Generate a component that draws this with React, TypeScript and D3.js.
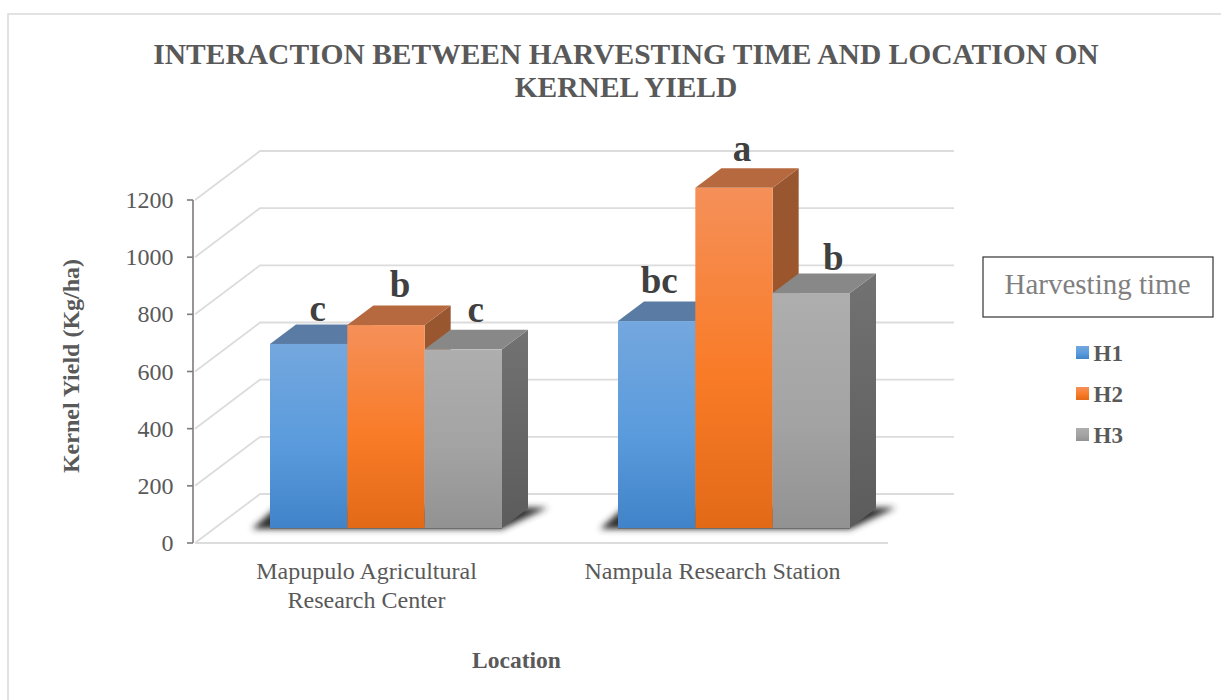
import React from "react";
import * as d3 from "d3";

const categories = ["Mapupulo Agricultural|Research Center", "Nampula Research Station"];
const seriesNames = ["H1", "H2", "H3"];
const h1Values = [644, 724];
const h2Values = [710, 1190];
const h3Values = [625, 822];
const h1Letters = ["c", "bc"];
const h2Letters = ["b", "a"];
const h3Letters = ["c", "b"];
const yTicks = [0, 200, 400, 600, 800, 1000, 1200];

const seriesValues = [h1Values, h2Values, h3Values];
const seriesLetters = [h1Letters, h2Letters, h3Letters];

// Hand-placed nudges for the significance letters, per series then per location.
const letterDx = [[9, 2.5], [14, 8], [12.5, 22]];
const letterDy = [[-23, -28], [-28, -27], [-27.5, -23]];

// Colours per series: front gradient stops, then the shaded top and side faces.
const palettes = [
  { stops: ["#74a7de", "#5a9bdd", "#4183c8"], top: "#5a7ca4", side: ["#4a6f99", "#36608c"] },
  { stops: ["#f59059", "#f97b27", "#e26a17"], top: "#b6683f", side: ["#985731", "#a35423"] },
  { stops: ["#aeaeae", "#a3a3a3", "#929292"], top: "#888888", side: ["#727272", "#5c5c5c"] },
];

const W = 1221;
const H = 700;
const SERIF = "'Liberation Serif', 'Times New Roman', serif";

// Oblique projection of the chart's depth axis.
const wallDx = 65;
const wallDy = -49;
const barDx = 26;
const barDy = -19.5;

const yFront = d3.scaleLinear().domain([0, 1200]).range([543, 200]);
const yBar = d3.scaleLinear().domain([0, 1200]).range([528, 185]);
const xGroup = d3.scaleBand().domain(categories).range([212, 908]).paddingInner(1 / 3).paddingOuter(1 / 6);
const xBar = d3.scaleBand().domain(seriesNames).range([0, xGroup.bandwidth()]);

const floorLeft = yFront.range()[0];
const gridRight = 954;
const frontRight = 888;
const axisX = 193;

export default function App() {
  const pts = (p: number[][]) => p.map((q) => q.join(",")).join(" ");
  return (
    <svg
      width={W}
      height={H}
      viewBox={`0 0 ${W} ${H}`}
      style={{ position: "absolute", left: 0, top: 0, background: "#fff" }}
    >
      <defs>
        <filter id="floorShadow" x="-20%" y="-100%" width="140%" height="300%">
          <feGaussianBlur stdDeviation="3.4" />
        </filter>
        {palettes.map((p, i) => (
          <React.Fragment key={i}>
            <linearGradient id={`front${i}`} x1="0" y1="0" x2="0" y2="1">
              <stop offset="0" stopColor={p.stops[0]} />
              <stop offset="0.55" stopColor={p.stops[1]} />
              <stop offset="1" stopColor={p.stops[2]} />
            </linearGradient>
            <linearGradient id={`side${i}`} x1="0" y1="0" x2="0" y2="1">
              <stop offset="0" stopColor={p.side[0]} />
              <stop offset="1" stopColor={p.side[1]} />
            </linearGradient>
          </React.Fragment>
        ))}
      </defs>

      {/* outer chart frame; it runs off the right and bottom of the page */}
      <rect x={8} y={14} width={1240} height={720} fill="#fff" stroke="#d9d9d9" strokeWidth={1.5} />

      <text fontFamily={SERIF} fontWeight={700} fontSize={29.5} fill="#595959" textAnchor="middle">
        <tspan x={626} y={64}>INTERACTION BETWEEN HARVESTING TIME AND LOCATION ON</tspan>
        <tspan x={626} y={97}>KERNEL YIELD</tspan>
      </text>

      {/* back wall gridlines and their slanted run along the side wall */}
      <g stroke="#dcdcdc" strokeWidth={1.8} fill="none">
        {yTicks.map((t) => (
          <polyline
            key={t}
            points={pts([
              [axisX + 2, yFront(t)],
              [axisX + 2 + wallDx, yFront(t) + wallDy],
              [gridRight, yFront(t) + wallDy],
            ])}
          />
        ))}
        <line x1={axisX + 2} x2={frontRight} y1={floorLeft} y2={floorLeft} />
      </g>

      {/* value axis */}
      <g stroke="#7f7a7a" strokeWidth={1.6}>
        <line x1={axisX} x2={axisX} y1={yFront(1200)} y2={yFront(0)} />
        {yTicks.map((t) => (
          <line key={t} x1={axisX - 6} x2={axisX} y1={yFront(t)} y2={yFront(t)} />
        ))}
      </g>
      <g fontFamily={SERIF} fontSize={24} fill="#595959" textAnchor="end">
        {yTicks.map((t) => (
          <text key={t} x={173.5} y={yFront(t) + 8}>
            {t}
          </text>
        ))}
      </g>

      <text
        transform="translate(79,366) rotate(-90)"
        fontFamily={SERIF}
        fontWeight={700}
        fontSize={24}
        fill="#595959"
        textAnchor="middle"
      >
        Kernel Yield (Kg/ha)
      </text>

      {/* floor shadows under each cluster */}
      {categories.map((c) => {
        const x0 = xGroup(c) as number;
        const x1 = x0 + xGroup.bandwidth();
        const b = yBar(0);
        return (
          <polygon
            key={c}
            filter="url(#floorShadow)"
            fill="#2e2e2e"
            points={pts([
              [x0 - 18, b + 1],
              [x1, b + 1],
              [x1 + barDx + 20, b + barDy - 1],
              [x0 + 6, b + barDy - 1],
            ])}
          />
        );
      })}

      {/* 3-D bars, painted left to right so nearer faces overlap */}
      {categories.map((c, ci) =>
        seriesNames.map((s, si) => {
          const x = (xGroup(c) as number) + (xBar(s) as number);
          const w = xBar.bandwidth();
          const v = seriesValues[si][ci];
          const top = yBar(v);
          const base = yBar(0);
          return (
            <g key={c + s}>
              <polygon
                fill={`url(#side${si})`}
                points={pts([
                  [x + w, top],
                  [x + w + barDx, top + barDy],
                  [x + w + barDx, base + barDy],
                  [x + w, base],
                ])}
              />
              <polygon
                fill={palettes[si].top}
                points={pts([
                  [x, top],
                  [x + barDx, top + barDy],
                  [x + w + barDx, top + barDy],
                  [x + w, top],
                ])}
              />
              <rect x={x} y={top} width={w} height={base - top} fill={`url(#front${si})`} />
            </g>
          );
        })
      )}
      {categories.map((c) => {
        const x = xGroup(c) as number;
        return (
          <line
            key={c}
            x1={x}
            x2={x + xGroup.bandwidth()}
            y1={yBar(0) + 0.5}
            y2={yBar(0) + 0.5}
            stroke="#6e6e6e"
            strokeWidth={1}
          />
        );
      })}

      {/* significance letters above each bar */}
      <g fontFamily={SERIF} fontWeight={700} fontSize={37} fill="#404040" textAnchor="middle">
        {categories.map((c, ci) =>
          seriesNames.map((s, si) => {
            const x = (xGroup(c) as number) + (xBar(s) as number) + xBar.bandwidth() / 2;
            const v = seriesValues[si][ci];
            return (
              <text key={c + s} x={x + letterDx[si][ci]} y={yBar(v) + letterDy[si][ci]}>
                {seriesLetters[si][ci]}
              </text>
            );
          })
        )}
      </g>

      {/* category labels */}
      <g fontFamily={SERIF} fontSize={24} fill="#595959" textAnchor="middle">
        {categories.map((c, i) => {
          const cx = i === 0 ? 366.5 : 712.5;
          return (
            <text key={c}>
              {c.split("|").map((line, k) => (
                <tspan key={k} x={cx} y={579 + k * 29}>
                  {line}
                </tspan>
              ))}
            </text>
          );
        })}
      </g>

      <text x={516.5} y={668} fontFamily={SERIF} fontWeight={700} fontSize={23.5} fill="#595959" textAnchor="middle">
        Location
      </text>

      {/* legend */}
      <rect x={983} y={257} width={230} height={60} fill="#fff" stroke="#333" strokeWidth={1.2} />
      <text x={1097.5} y={294} fontFamily={SERIF} fontSize={29} fill="#7f7f7f" textAnchor="middle">
        Harvesting time
      </text>
      {seriesNames.map((s, i) => (
        <g key={s}>
          <rect x={1076} y={346 + i * 41} width={13} height={13} fill={`url(#front${i})`} />
          <text x={1093.5} y={361 + i * 41} fontFamily={SERIF} fontWeight={700} fontSize={23} fill="#595959">
            {s}
          </text>
        </g>
      ))}
    </svg>
  );
}
